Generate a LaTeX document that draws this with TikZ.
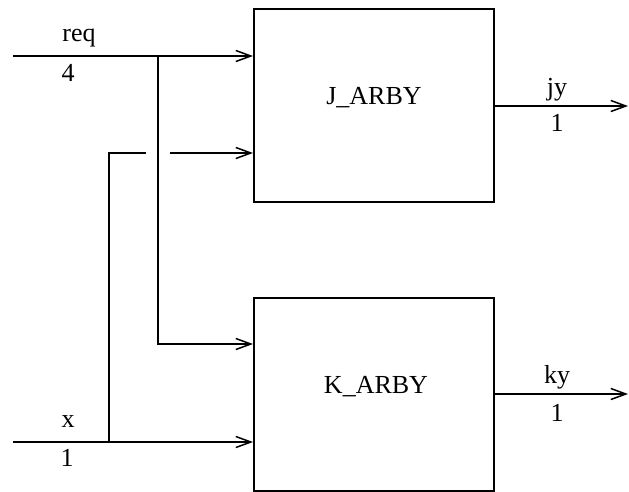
\documentclass[tikz,border=0pt]{standalone}
\usepackage{fontspec}
\setmainfont{Liberation Serif}
\usetikzlibrary{arrows.meta}
\begin{document}
\begin{tikzpicture}[x=1pt,y=-1pt,
  blk/.style={draw,line width=1.8pt,minimum width=240pt,minimum height=193pt,inner sep=0pt,anchor=north west},
  wire/.style={line width=1.8pt},
  arr/.style={wire,-{Straight Barb[length=15pt,width=11pt,line width=1.5pt]}},
  lbl/.style={font=\fontsize{26}{31}\selectfont,inner sep=0pt}]
\useasboundingbox (0,0) rectangle (629,491);
\node[blk] (J) at (253,8) {};
\node[blk] (K) at (253,297) {};
\node[lbl] (jt) at (374,98) {J\_ARBY};
\node[lbl] (kt) at (376,387) {K\_ARBY};
\coordinate (reqin) at (13,56);
\coordinate (xin) at (13,442);
\coordinate (reqtap) at (158,56);
\coordinate (xtap) at (109,442);
\coordinate (gapL) at (146,153);
\coordinate (gapR) at (170,153);
\coordinate (k1) at (0,344);
\coordinate (jyout) at (628,106);
\coordinate (kyout) at (628,394);
\draw[arr] (reqin) -- (reqin -| J.west);
\draw[arr] (reqtap) |- (k1 -| K.west);
\draw[arr] (xin) -- (xin -| K.west);
\draw[wire] (xtap) |- (gapL);
\draw[arr] (gapR) -- (gapR -| J.west);
\draw[arr] (J.east |- jyout) -- (jyout);
\draw[arr] (K.east |- kyout) -- (kyout);
\node[lbl] (req) at (79,38) {req};
\node[lbl] (rn) at (68,73) {4};
\node[lbl] (x) at (68,422) {x};
\node[lbl] (xn) at (67,458) {1};
\node[lbl] (jy) at (557,90) {jy};
\node[lbl] (jyn) at (557,123) {1};
\node[lbl] (ky) at (557,377) {ky};
\node[lbl] (kyn) at (557,413) {1};
\end{tikzpicture}
\end{document}
